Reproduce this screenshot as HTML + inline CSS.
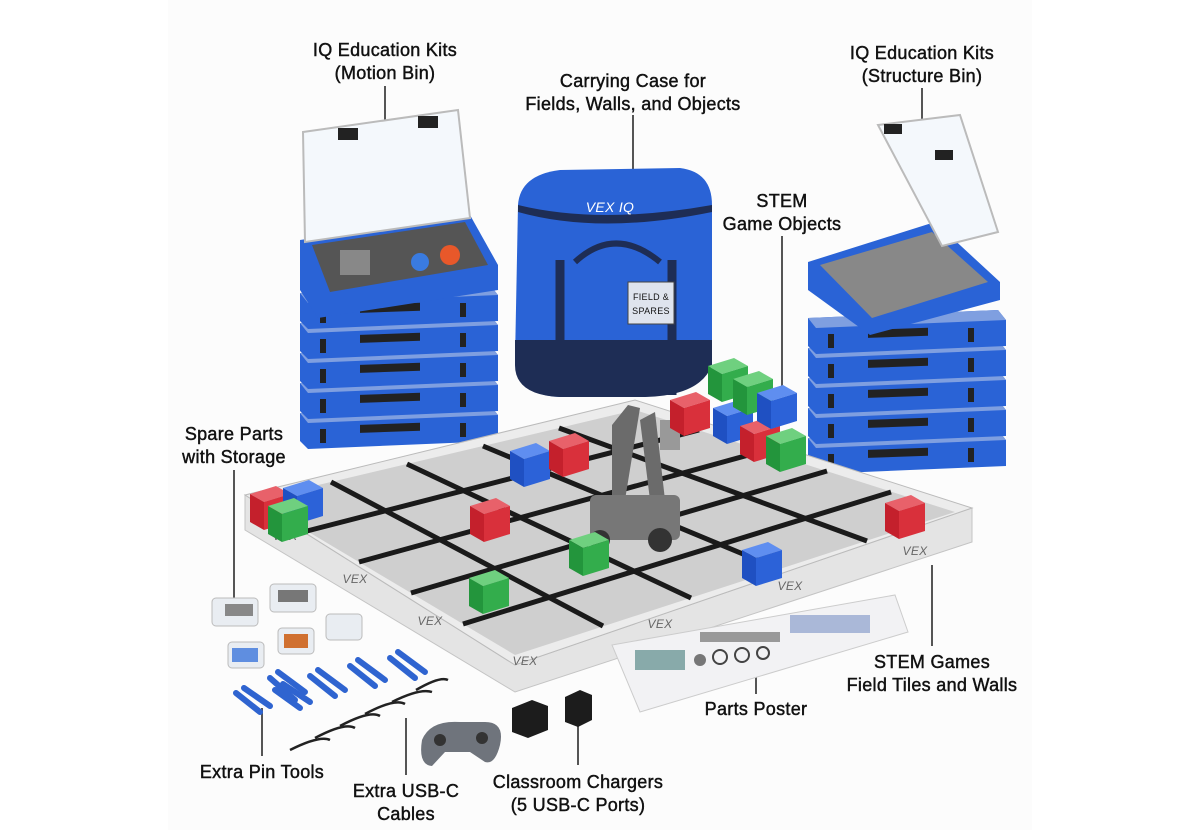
<!DOCTYPE html>
<html><head><meta charset="utf-8"><style>
html,body{margin:0;padding:0;background:#fff;}
svg{display:block}
text{font-family:"Liberation Sans",sans-serif;font-size:18px;fill:#111;stroke:#111;stroke-width:0.45px;letter-spacing:0.3px;text-anchor:middle;}
</style></head><body>
<svg width="1200" height="830" viewBox="0 0 1200 830" xmlns="http://www.w3.org/2000/svg">
<defs>
<g id="cr"><polygon points="0,8 26,0 40,8 14,16" fill="#e8616a"/><polygon points="0,8 14,16 14,44 0,36" fill="#c4202c"/><polygon points="14,16 40,8 40,36 14,44" fill="#d9303b"/></g>
<g id="cb"><polygon points="0,8 26,0 40,8 14,16" fill="#5f8ef0"/><polygon points="0,8 14,16 14,44 0,36" fill="#1f50c2"/><polygon points="14,16 40,8 40,36 14,44" fill="#2c62d8"/></g>
<g id="cg"><polygon points="0,8 26,0 40,8 14,16" fill="#6fd07f"/><polygon points="0,8 14,16 14,44 0,36" fill="#23953c"/><polygon points="14,16 40,8 40,36 14,44" fill="#33ad4c"/></g>
<g id="bin"><polygon points="0,8 190,0 198,10 198,36 8,44 0,36" fill="#2a63d6"/><polygon points="0,8 190,0 198,10 8,18" fill="#7f9fe0"/><rect x="60" y="22" width="60" height="8" fill="#222" transform="skewY(-2)"/><rect x="20" y="24" width="6" height="14" fill="#222"/><rect x="160" y="18" width="6" height="14" fill="#222"/></g>
</defs>
<rect x="168" y="0" width="864" height="830" fill="#fcfcfc"/>

<g stroke="#555" stroke-width="2">
<line x1="385" y1="86" x2="385" y2="122"/>
<line x1="633" y1="115" x2="633" y2="172"/>
<line x1="922" y1="88" x2="922" y2="137"/>
<line x1="782" y1="236" x2="782" y2="388"/>
<line x1="234" y1="470" x2="234" y2="598"/>
<line x1="932" y1="565" x2="932" y2="646"/>
<line x1="756" y1="662" x2="756" y2="694"/>
<line x1="262" y1="708" x2="262" y2="756"/>
<line x1="406" y1="718" x2="406" y2="775"/>
<line x1="578" y1="720" x2="578" y2="765"/>
</g>

<!-- left stack -->
<use href="#bin" x="300" y="405"/>
<use href="#bin" x="300" y="375"/>
<use href="#bin" x="300" y="345"/>
<use href="#bin" x="300" y="315"/>
<use href="#bin" x="300" y="285"/>
<polygon points="300,240 470,215 498,265 498,290 318,318 300,290" fill="#2a63d6"/>
<polygon points="312,245 465,222 488,265 330,292" fill="#555"/>
<rect x="340" y="250" width="30" height="25" fill="#888"/><circle cx="450" cy="255" r="10" fill="#e8582a"/><circle cx="420" cy="262" r="9" fill="#3a7be0"/>
<polygon points="303,132 458,110 470,218 305,242" fill="#f4f8fc" stroke="#bbb" stroke-width="2"/>
<rect x="338" y="128" width="20" height="12" fill="#222"/><rect x="418" y="116" width="20" height="12" fill="#222"/>

<!-- bag -->
<path d="M518,205 Q520,175 560,170 L680,168 Q712,172 712,205 L712,360 Q700,395 640,397 L560,397 Q515,395 515,360 Z" fill="#2a63d6"/>
<path d="M515,340 L712,340 L712,365 Q700,397 640,397 L560,397 Q515,395 515,365 Z" fill="#1e2d55"/>
<path d="M518,205 Q600,225 712,205 L712,212 Q600,235 518,212 Z" fill="#1e2d55"/>
<path d="M560,260 L560,395 M672,260 L672,395" stroke="#1e2d55" stroke-width="9" fill="none"/>
<path d="M575,262 Q615,225 660,262" stroke="#1e2d55" stroke-width="6" fill="none"/>
<rect x="628" y="282" width="46" height="42" fill="#dfe4ee" stroke="#444"/>
<text x="651" y="300" style="font-size:9px;stroke:none">FIELD &amp;</text><text x="651" y="314" style="font-size:9px;stroke:none">SPARES</text>
<text x="610" y="212" style="font-size:14px;fill:#fff;stroke:none;font-style:italic">VEX IQ</text>

<!-- right stack -->
<use href="#bin" x="808" y="430"/>
<use href="#bin" x="808" y="400"/>
<use href="#bin" x="808" y="370"/>
<use href="#bin" x="808" y="340"/>
<use href="#bin" x="808" y="310"/>
<polygon points="808,262 935,222 1000,282 1000,300 870,335 808,290" fill="#2a63d6"/>
<polygon points="820,265 932,232 988,282 872,318" fill="#888"/>
<polygon points="878,125 960,115 998,232 942,246" fill="#f4f8fc" stroke="#bbb" stroke-width="2"/>
<rect x="884" y="124" width="18" height="10" fill="#222"/><rect x="935" y="150" width="18" height="10" fill="#222"/>

<!-- field -->
<polygon points="245,495 515,665 972,508 972,542 515,692 245,530" fill="#e4e4e4" stroke="#c4c4c4"/>
<polygon points="245,495 635,400 972,508 515,665" fill="#ececec" stroke="#bbb"/>
<polygon points="255,500 635,410 955,512 515,655" fill="#cfcfcf"/>
<g stroke="#1a1a1a" stroke-width="5">
<line x1="307" y1="531" x2="699" y2="430"/><line x1="359" y1="562" x2="763" y2="451"/><line x1="411" y1="593" x2="827" y2="471"/><line x1="463" y1="624" x2="891" y2="492"/>
<line x1="331" y1="482" x2="603" y2="626"/><line x1="407" y1="464" x2="691" y2="598"/><line x1="483" y1="446" x2="779" y2="569"/><line x1="559" y1="428" x2="867" y2="541"/>
</g>
<g>
<text x="285" y="540" style="font-size:12px;stroke:none;fill:#666;font-style:italic">VEX</text><text x="355" y="583" style="font-size:12px;stroke:none;fill:#666;font-style:italic">VEX</text><text x="430" y="625" style="font-size:12px;stroke:none;fill:#666;font-style:italic">VEX</text><text x="525" y="665" style="font-size:12px;stroke:none;fill:#666;font-style:italic">VEX</text><text x="660" y="628" style="font-size:12px;stroke:none;fill:#666;font-style:italic">VEX</text><text x="790" y="590" style="font-size:12px;stroke:none;fill:#666;font-style:italic">VEX</text><text x="915" y="555" style="font-size:12px;stroke:none;fill:#666;font-style:italic">VEX</text>
</g>

<!-- robot -->
<g fill="#6b6b6b">
<polygon points="612,425 628,405 640,408 625,500 612,500"/>
<polygon points="640,420 655,412 665,500 650,500"/>
<rect x="590" y="495" width="90" height="45" rx="6" fill="#777"/>
<circle cx="600" cy="540" r="10" fill="#333"/><circle cx="660" cy="540" r="12" fill="#333"/>
<rect x="660" y="420" width="20" height="30" fill="#999"/>
</g>

<!-- cubes -->
<use href="#cr" x="250" y="486"/><use href="#cb" x="283" y="480"/><use href="#cg" x="268" y="498"/>
<use href="#cb" x="510" y="443"/><use href="#cr" x="549" y="433"/><use href="#cr" x="470" y="498"/>
<use href="#cg" x="569" y="532"/><use href="#cg" x="469" y="570"/><use href="#cb" x="742" y="542"/>
<use href="#cr" x="885" y="495"/><use href="#cr" x="670" y="392"/><use href="#cb" x="713" y="400"/>
<use href="#cg" x="708" y="358"/><use href="#cg" x="733" y="371"/><use href="#cr" x="740" y="418"/>
<use href="#cb" x="757" y="385"/><use href="#cg" x="766" y="428"/>

<!-- poster -->
<polygon points="612,645 895,595 908,632 640,712" fill="#f2f2f4" stroke="#ccc"/>
<g fill="#777"><circle cx="700" cy="660" r="6"/><circle cx="720" cy="657" r="7" fill="none" stroke="#444" stroke-width="2"/><circle cx="742" cy="655" r="7" fill="none" stroke="#444" stroke-width="2"/><circle cx="763" cy="653" r="6" fill="none" stroke="#444" stroke-width="2"/>
<rect x="635" y="650" width="50" height="20" fill="#8aa"/><rect x="790" y="615" width="80" height="18" fill="#aab8d8"/><rect x="700" y="632" width="80" height="10" fill="#999"/></g>

<!-- spare parts boxes -->
<g fill="#e9edf2" stroke="#bbb">
<rect x="212" y="598" width="46" height="28" rx="4"/><rect x="270" y="584" width="46" height="28" rx="4"/>
<rect x="228" y="642" width="36" height="26" rx="4"/><rect x="278" y="628" width="36" height="26" rx="4"/><rect x="326" y="614" width="36" height="26" rx="4"/>
</g>
<rect x="232" y="648" width="26" height="14" fill="#5f8ee0"/><rect x="284" y="634" width="24" height="14" fill="#d07030"/><rect x="225" y="604" width="28" height="12" fill="#888"/><rect x="278" y="590" width="30" height="12" fill="#777"/>

<!-- pin tools -->
<g stroke="#2f64d0" stroke-width="6" stroke-linecap="round">
<path d="M270,678 L295,700 M278,672 L305,692"/><path d="M310,676 L335,696 M318,670 L345,690"/><path d="M350,666 L375,686 M358,660 L385,680"/><path d="M390,658 L415,678 M398,652 L425,672"/>
<path d="M236,693 L260,712 M244,688 L270,706"/><path d="M275,690 L300,708 M283,684 L310,702"/>
</g>
<g stroke="#222" stroke-width="2.5" fill="none">
<path d="M290,750 Q320,735 330,740"/><path d="M315,738 Q345,722 355,728"/><path d="M340,726 Q370,710 380,716"/><path d="M365,714 Q395,698 405,704"/><path d="M392,702 Q420,688 432,692"/><path d="M416,690 Q440,676 448,680"/>
</g>
<path d="M422,740 Q430,720 460,722 L485,722 Q505,722 500,745 Q495,765 485,762 L470,752 L445,752 L432,766 Q418,765 422,740 Z" fill="#6f747c"/>
<circle cx="440" cy="740" r="6" fill="#333"/><circle cx="482" cy="738" r="6" fill="#333"/>
<polygon points="512,708 532,700 548,706 548,730 528,738 512,732" fill="#1c1c1c"/>
<polygon points="565,697 580,690 592,695 592,720 578,727 565,722" fill="#1c1c1c"/>

<!-- labels -->
<text x="385" y="56">IQ Education Kits</text><text x="385" y="79">(Motion Bin)</text>
<text x="633" y="87">Carrying Case for</text><text x="633" y="110">Fields, Walls, and Objects</text>
<text x="922" y="59">IQ Education Kits</text><text x="922" y="82">(Structure Bin)</text>
<text x="782" y="207">STEM</text><text x="782" y="230">Game Objects</text>
<text x="234" y="440">Spare Parts</text><text x="234" y="463">with Storage</text>
<text x="932" y="668">STEM Games</text><text x="932" y="691">Field Tiles and Walls</text>
<text x="756" y="715">Parts Poster</text>
<text x="262" y="778">Extra Pin Tools</text>
<text x="406" y="797">Extra USB-C</text><text x="406" y="820">Cables</text>
<text x="578" y="788">Classroom Chargers</text><text x="578" y="811">(5 USB-C Ports)</text>
</svg>
</body></html>
